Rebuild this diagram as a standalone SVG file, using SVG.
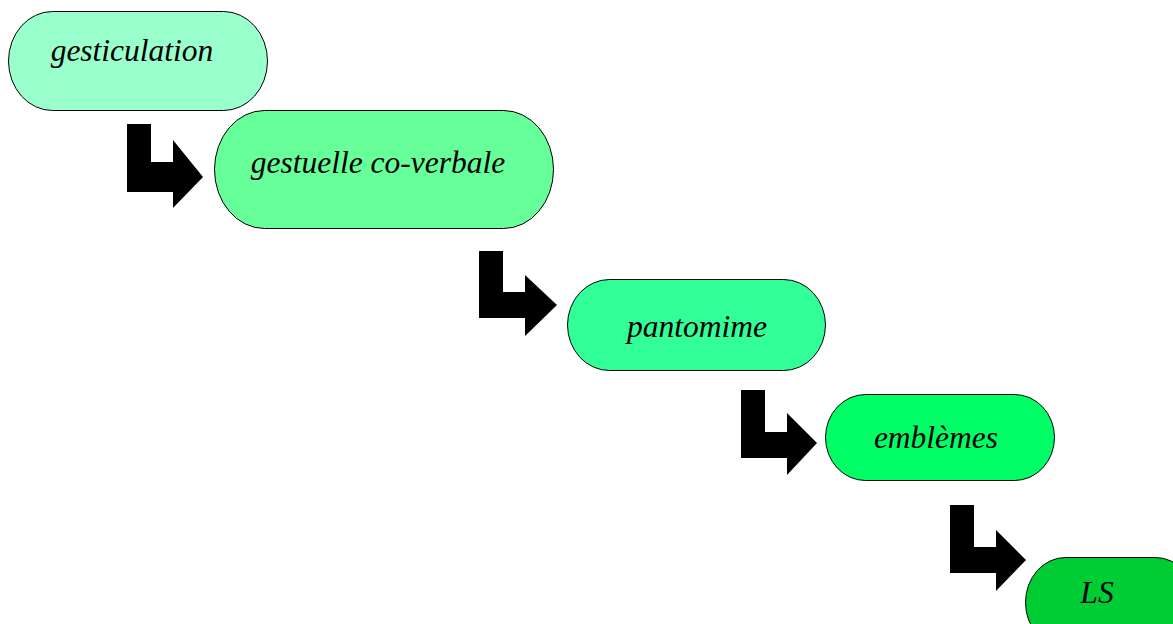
<svg xmlns="http://www.w3.org/2000/svg" width="1173" height="624" viewBox="0 0 1173 624">
<style>
.node{stroke:#000;stroke-width:1}
.lbl{font-family:"Liberation Serif",serif;font-style:italic;font-size:31.5px;fill:#000;text-anchor:middle}
.arrow{fill:#000;stroke:none}
</style>
<rect width="1173" height="624" fill="#fff"/>
<g id="connectors">
<path class="arrow" d="M127,124 H151 V162 H173 V140 L203,177 L173,208 V192 H127 Z"/>
<path class="arrow" d="M479,251 H503 V292 H525 V275 L557,305 L525,336 V318 H479 Z"/>
<path class="arrow" d="M741,390 H765 V432 H787 V413 L817,443 L787,475 V458 H741 Z"/>
<path class="arrow" d="M950,505 H974 V547 H996 V530 L1026,560 L996,591 V573 H950 Z"/>
</g>
<g id="n1"><rect class="node" x="8.5" y="11.5" width="259" height="99" rx="44" ry="49.5" fill="#99ffcc"/><text class="lbl" x="132" y="61">gesticulation</text></g>
<g id="n2"><rect class="node" x="214.5" y="110.5" width="339" height="118" rx="50" ry="59" fill="#66ff99"/><text class="lbl" x="378" y="173">gestuelle co-verbale</text></g>
<g id="n3"><rect class="node" x="567.5" y="279.5" width="258" height="91" rx="42" ry="45.5" fill="#33ff99"/><text class="lbl" x="697" y="337">pantomime</text></g>
<g id="n4"><rect class="node" x="825.5" y="394.5" width="229" height="86" rx="40" ry="43" fill="#00ff66"/><text class="lbl" x="936" y="448">emblèmes</text></g>
<g id="n5"><rect class="node" x="1025.5" y="557.5" width="170" height="90" rx="40" ry="45" fill="#00cc33"/><text class="lbl" x="1097" y="603">LS</text></g>
</svg>
